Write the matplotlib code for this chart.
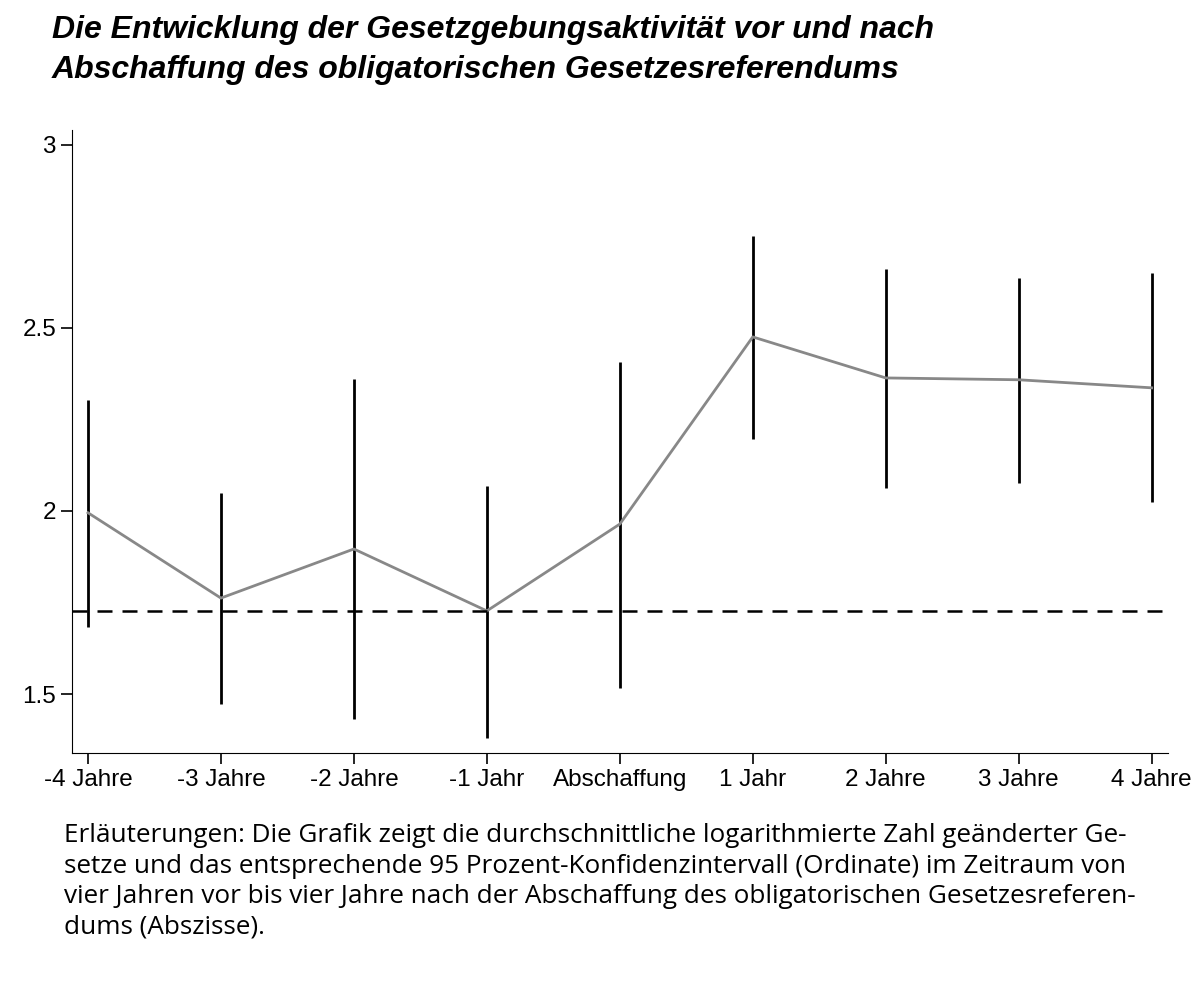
import numpy as np
import matplotlib.pyplot as plt

labels = ['-4 Jahre', '-3 Jahre', '-2 Jahre', '-1 Jahr', 'Abschaffung',
          '1 Jahr', '2 Jahre', '3 Jahre', '4 Jahre']
x = [-4, -3, -2, -1, 0, 1, 2, 3, 4]
mean = [1.995, 1.762, 1.896, 1.727, 1.964, 2.475, 2.363, 2.358, 2.336]
ci_hi = [2.303, 2.049, 2.361, 2.068, 2.407, 2.751, 2.661, 2.637, 2.650]
ci_lo = [1.683, 1.473, 1.432, 1.380, 1.516, 2.197, 2.063, 2.077, 2.025]
ref_level = 1.727

fig = plt.figure(figsize=(12, 9.89), dpi=100)
ax = fig.add_axes([0.06, 0.2386, 0.913, 0.63])

ax.vlines(x, ci_lo, ci_hi, color='black', linewidth=2)
ax.plot(x, mean, color='#888888', linewidth=2)
ax.axhline(ref_level, color='black', linestyle=(0, (6, 4)), linewidth=1.8)

ax.set_xlim(-4.12, 4.12)
ax.set_ylim(1.339, 3.04)
ax.set_yticks([1.5, 2, 2.5, 3])
ax.set_yticklabels(['1.5', '2', '2.5', '3'])
ax.set_xticks(x)
ax.set_xticklabels(labels)
for s in ['top', 'right']:
    ax.spines[s].set_visible(False)
ax.tick_params(labelsize=17.5, length=8, width=1.2)
for lab in ax.get_xticklabels() + ax.get_yticklabels():
    lab.set_family('Liberation Sans')

fig.text(0.043, 0.985, 'Die Entwicklung der Gesetzgebungsaktivität vor und nach\n'
         'Abschaffung des obligatorischen Gesetzesreferendums',
         fontsize=23, fontweight='bold', fontstyle='italic', va='top',
         linespacing=1.45, family='Liberation Sans')

fig.text(0.053, 0.168, 'Erläuterungen: Die Grafik zeigt die durchschnittliche logarithmierte Zahl geänderter Ge-\n'
         'setze und das entsprechende 95 Prozent-Konfidenzintervall (Ordinate) im Zeitraum von\n'
         'vier Jahren vor bis vier Jahre nach der Abschaffung des obligatorischen Gesetzesreferen-\n'
         'dums (Abszisse).',
         fontsize=18.8, va='top', linespacing=1.3, family='Open Sans')

fig.savefig('out.png', dpi=100)
